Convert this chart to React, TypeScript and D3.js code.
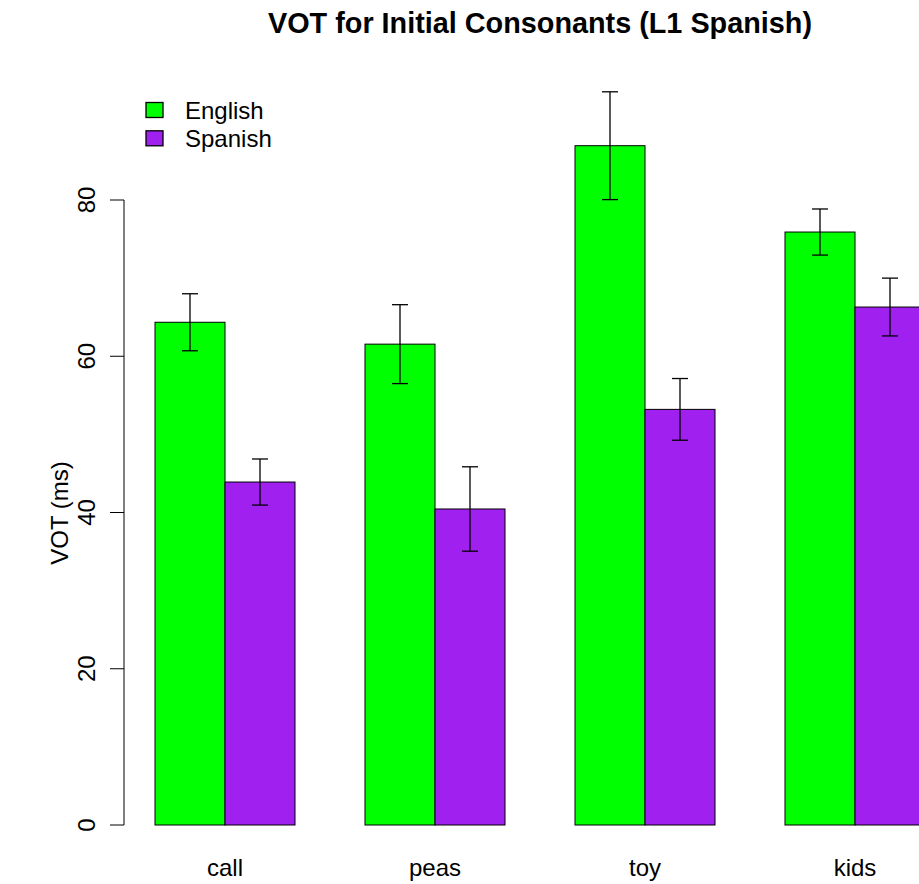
import { useEffect, useRef } from 'react';
import * as d3 from 'd3';

const categories = ['call', 'peas', 'toy', 'kids'];
const series = ['English', 'Spanish'];
const colors = ['#00ff00', '#a020f0'];

// mean VOT (ms) per consonant
const englishMeans = [64.35, 61.55, 86.95, 75.9];
const spanishMeans = [43.9, 40.45, 53.2, 66.3];
// half-length of error bars
const englishErr = [3.65, 5.05, 6.9, 2.95];
const spanishErr = [2.95, 5.4, 3.95, 3.7];

const yTicks = [0, 20, 40, 60, 80];

const W = 919;
const H = 884;
const FONT = 'Liberation Sans, Arial, Helvetica, sans-serif';

export default function App() {
  const svgRef = useRef<SVGSVGElement>(null);

  useEffect(() => {
    if (!svgRef.current) return;
    const svg = d3.select(svgRef.current);
    svg.selectAll('*').remove();

    const means = [englishMeans, spanishMeans];
    const errs = [englishErr, spanishErr];

    const x0 = d3
      .scaleBand<string>()
      .domain(categories)
      .range([85, 995])
      .paddingInner(1 / 3)
      .paddingOuter(1 / 3);

    const x1 = d3
      .scaleBand<string>()
      .domain(series)
      .range([0, x0.bandwidth()])
      .padding(0);

    const y = d3.scaleLinear().domain([0, 80]).range([825, 200]);

    const data = categories.flatMap((c, i) =>
      series.map((s, j) => ({
        cat: c,
        ser: s,
        color: colors[j],
        value: means[j][i],
        err: errs[j][i],
      }))
    );

    // Bars
    svg
      .append('g')
      .selectAll('rect')
      .data(data)
      .enter()
      .append('rect')
      .attr('x', (d) => x0(d.cat)! + x1(d.ser)!)
      .attr('y', (d) => y(d.value))
      .attr('width', x1.bandwidth())
      .attr('height', (d) => y(0) - y(d.value))
      .attr('fill', (d) => d.color)
      .attr('stroke', '#000')
      .attr('stroke-width', 1);

    // Error bars
    const eb = svg.append('g').attr('stroke', '#000').attr('stroke-width', 1.3);
    data.forEach((d) => {
      const cx = x0(d.cat)! + x1(d.ser)! + x1.bandwidth() / 2;
      const top = y(d.value + d.err);
      const bot = y(d.value - d.err);
      eb.append('line').attr('x1', cx).attr('x2', cx).attr('y1', top).attr('y2', bot);
      eb.append('line').attr('x1', cx - 8).attr('x2', cx + 8).attr('y1', top).attr('y2', top);
      eb.append('line').attr('x1', cx - 8).attr('x2', cx + 8).attr('y1', bot).attr('y2', bot);
    });

    // Y axis
    const ax = svg.append('g');
    ax.append('line')
      .attr('x1', 124)
      .attr('x2', 124)
      .attr('y1', y(0))
      .attr('y2', y(80))
      .attr('stroke', '#000');
    ax.selectAll('.tick')
      .data(yTicks)
      .enter()
      .append('line')
      .attr('x1', 110)
      .attr('x2', 124)
      .attr('y1', (d) => y(d))
      .attr('y2', (d) => y(d))
      .attr('stroke', '#000');
    ax.selectAll('.ticklab')
      .data(yTicks)
      .enter()
      .append('text')
      .attr('transform', (d) => `translate(95,${y(d)}) rotate(-90)`)
      .attr('text-anchor', 'middle')
      .attr('font-family', FONT)
      .attr('font-size', 24)
      .text((d) => d);

    // Category labels
    svg
      .append('g')
      .selectAll('text')
      .data(categories)
      .enter()
      .append('text')
      .attr('x', (d) => x0(d)! + x0.bandwidth() / 2)
      .attr('y', 876)
      .attr('text-anchor', 'middle')
      .attr('font-family', FONT)
      .attr('font-size', 24)
      .text((d) => d);

    // Axis title
    svg
      .append('text')
      .attr('transform', `translate(68,513) rotate(-90)`)
      .attr('text-anchor', 'middle')
      .attr('font-family', FONT)
      .attr('font-size', 24)
      .text('VOT (ms)');

    // Title
    svg
      .append('text')
      .attr('x', 540)
      .attr('y', 33)
      .attr('text-anchor', 'middle')
      .attr('font-family', FONT)
      .attr('font-weight', 'bold')
      .attr('font-size', 28.8)
      .text('VOT for Initial Consonants (L1 Spanish)');

    // Legend
    const lg = svg.append('g');
    series.forEach((s, j) => {
      const cy = 110 + j * 28.3;
      lg.append('rect')
        .attr('x', 146)
        .attr('y', cy - 7.5)
        .attr('width', 17)
        .attr('height', 15)
        .attr('fill', colors[j])
        .attr('stroke', '#000')
        .attr('stroke-width', 1.3);
      lg.append('text')
        .attr('x', 185)
        .attr('y', cy + 9)
        .attr('font-family', FONT)
        .attr('font-size', 24)
        .text(s);
    });
  }, []);

  return (
    <svg
      ref={svgRef}
      width={W}
      height={H}
      style={{ position: 'absolute', left: 0, top: 0, background: '#fff' }}
    />
  );
}
